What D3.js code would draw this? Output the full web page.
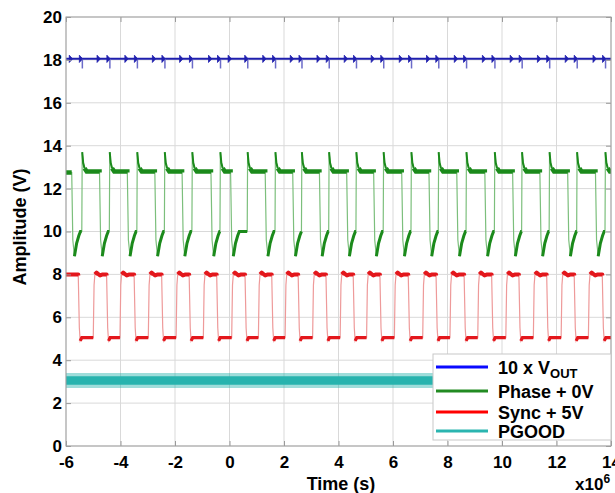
<!DOCTYPE html>
<html>
<head>
<meta charset="utf-8">
<script src="https://cdn.jsdelivr.net/npm/d3@7"></script>
<style>
  html, body { margin: 0; padding: 0; background: #fff; }
  svg text { font-family: "Liberation Sans", Arial, sans-serif; font-weight: bold; fill: #000; }
</style>
</head>
<body>
<svg id="chart" width="615" height="493"></svg>
<script>
// ---------- data ----------
const xTicks = [-6, -4, -2, 0, 2, 4, 6, 8, 10, 12, 14];
const yTicks = [0, 2, 4, 6, 8, 10, 12, 14, 16, 18, 20];
const seriesNames = ["10 x V", "Phase + 0V", "Sync + 5V", "PGOOD"];

// Phase (green) switching edges, time in µs
const phaseFall = [-5.79, -4.77, -3.75, -2.74, -1.74, -0.68, 0.04, 1.31, 2.32, 3.30, 4.30, 5.29, 6.32, 7.32, 8.34, 9.37, 10.39, 11.39, 12.41, 13.43];
const phaseRise = [-5.42, -4.41, -3.40, -2.39, -1.38, -0.35, 0.65, 1.67, 2.64, 3.64, 4.64, 5.64, 6.66, 7.66, 8.68, 9.72, 10.72, 11.73, 12.74, 13.78];
// shape of the phase node right after each edge: [offset µs, volts]
const phaseRiseShape = [[0, 10.0], [0.015, 13.7], [0.05, 13.2], [0.1, 12.95], [0.18, 12.8]];
const phaseFallShape = [[0, 12.75], [0.04, 9.6], [0.1, 8.85], [0.18, 9.45], [0.26, 9.8], [0.32, 10.0]];

// Sync + 5V (red) edges
const syncRise = [-5.00, -4.02, -2.98, -1.96, -0.96, 0.08, 1.06, 2.04, 3.05, 4.06, 5.03, 6.05, 7.09, 8.09, 9.11, 10.14, 11.15, 12.17, 13.17];
const syncFall = [-5.55, -4.51, -3.50, -2.49, -1.48, -0.47, 0.57, 1.55, 2.52, 3.54, 4.54, 5.52, 6.56, 7.58, 8.61, 9.62, 10.62, 11.64, 12.65, 13.68];
const syncRiseShape = [[0, 5.05], [0.03, 7.5], [0.06, 8.0], [0.12, 8.08], [0.25, 7.95], [0.35, 8.0]];
const syncFallShape = [[0, 7.95], [0.04, 5.5], [0.07, 4.9], [0.13, 5.05]];

// 10 x VOUT (blue)
const voutLevel = 18.05;
const voutArrowShape = [[-0.09, 18.22], [0.03, 18.05], [-0.09, 17.88]];
const voutSpikeShape = [[0.02, 18.05], [0.02, 17.6]];

// PGOOD (cyan) noise band
const pgoodCore = [2.85, 3.25];
const pgoodOuter = [2.7, 3.4];
const tRange = [-6, 14];

const colors = { vout: "#1f1fae", phase: "#1b8a1b", phaseEdge: "#7cbf7c", sync: "#e3171c", syncEdge: "#ee9a9a", pgood: "#27b3ae" };
const legendColors = ["#0a0aff", "#228b22", "#ff0000", "#2ab5b0"];

// ---------- layout ----------
const svg = d3.select("#chart");
const x = d3.scaleLinear().domain([-6, 14]).range([66, 611]);
const y = d3.scaleLinear().domain([0, 20]).range([446, 17]);
const X0 = x.range()[0], X1 = x.range()[1], Y0 = y.range()[1], Y1 = y.range()[0];

svg.append("defs").append("clipPath").attr("id", "clip")
  .append("rect").attr("x", X0).attr("y", Y0).attr("width", X1 - X0).attr("height", Y1 - Y0);

// grid
const grid = svg.append("g");
grid.selectAll(".gx").data(xTicks).join("line")
  .attr("x1", d => x(d)).attr("x2", d => x(d)).attr("y1", Y0).attr("y2", Y1)
  .attr("stroke", "#d9d9d9").attr("stroke-width", 1);
grid.selectAll(".gy").data(yTicks).join("line")
  .attr("y1", d => y(d)).attr("y2", d => y(d)).attr("x1", X0).attr("x2", X1)
  .attr("stroke", "#d9d9d9").attr("stroke-width", 1);

// ---------- wave builder ----------
function buildWave(startLevel, edges) {
  const pts = [[tRange[0], startLevel]];
  let level = startLevel;
  edges.sort((a, b) => a.t - b.t).forEach(e => {
    pts.push([e.t, level]);
    e.shape.forEach(([dt, v]) => pts.push([e.t + dt, v]));
    level = e.shape[e.shape.length - 1][1];
  });
  pts.push([tRange[1] + 0.2, level]);
  return pts;
}
function subset(pts, t0, t1) { return pts.filter(p => p[0] >= t0 && p[0] <= t1); }
const line = d3.line().x(d => x(d[0])).y(d => y(d[1]));

const plot = svg.append("g").attr("clip-path", "url(#clip)");

// PGOOD band
const area = d3.area().x(d => x(d)).y0(d => y(pgoodOuter[0])).y1(d => y(pgoodOuter[1]));
plot.append("path").datum(tRange).attr("d", area).attr("fill", colors.pgood).attr("opacity", 0.45);
const area2 = d3.area().x(d => x(d)).y0(d => y(pgoodCore[0])).y1(d => y(pgoodCore[1]));
plot.append("path").datum(tRange).attr("d", area2).attr("fill", colors.pgood);

// Sync (red)
const syncEdges = syncRise.map(t => ({ t, shape: syncRiseShape })).concat(syncFall.map(t => ({ t, shape: syncFallShape })));
const syncPts = buildWave(8.0, syncEdges);
plot.append("path").attr("d", line(syncPts)).attr("fill", "none").attr("stroke", colors.syncEdge).attr("stroke-width", 1.2);
const syncHighStarts = [tRange[0]].concat(syncRise.map(t => t + 0.05));
syncHighStarts.forEach((s, i) => {
  const f = syncFall[i];
  plot.append("path").attr("d", line(subset(syncPts, s, f).concat([[f, 7.95]])))
    .attr("fill", "none").attr("stroke", colors.sync).attr("stroke-width", 4).attr("stroke-linejoin", "round");
});
syncFall.forEach((f, i) => {
  const r = i < syncRise.length ? syncRise[i] : tRange[1] + 0.2;
  plot.append("path").attr("d", line(subset(syncPts, f + 0.06, r)))
    .attr("fill", "none").attr("stroke", colors.sync).attr("stroke-width", 3.2);
});

// Phase (green)
const phaseEdges = phaseRise.map(t => ({ t, shape: phaseRiseShape })).concat(phaseFall.map(t => ({ t, shape: phaseFallShape })));
const phasePts = buildWave(12.75, phaseEdges);
plot.append("path").attr("d", line(phasePts)).attr("fill", "none").attr("stroke", colors.phaseEdge).attr("stroke-width", 1.2);
phaseRise.forEach(r => {
  plot.append("path").attr("d", line(subset(phasePts, r + 0.01, r + 0.12)))
    .attr("fill", "none").attr("stroke", colors.phase).attr("stroke-width", 2);
});
const phaseHighStarts = [tRange[0]].concat(phaseRise.map(t => t + 0.09));
phaseHighStarts.forEach((s, i) => {
  const f = i < phaseFall.length ? phaseFall[i] : tRange[1] + 0.2;
  plot.append("path").attr("d", line(subset(phasePts, s, f)))
    .attr("fill", "none").attr("stroke", colors.phase).attr("stroke-width", 4.5);
});
phaseFall.forEach((f, i) => {
  const r = phaseRise[i];
  plot.append("path").attr("d", line(subset(phasePts, f + 0.1, r).concat([[r, 10.0]])))
    .attr("fill", "none").attr("stroke", colors.phase).attr("stroke-width", 3);
});

// VOUT (blue)
plot.append("line").attr("x1", X0).attr("x2", X1).attr("y1", y(voutLevel)).attr("y2", y(voutLevel))
  .attr("stroke", colors.vout).attr("stroke-width", 2);
phaseRise.forEach(t => {
  plot.append("path").attr("d", line(voutSpikeShape.map(([dt, v]) => [t + dt, v])))
    .attr("fill", "none").attr("stroke", "#6b6bc8").attr("stroke-width", 1.5);
});
phaseFall.concat(phaseRise).forEach(t => {
  plot.append("path").attr("d", line(voutArrowShape.map(([dt, v]) => [t + dt, v])) + "Z")
    .attr("fill", colors.vout).attr("stroke", colors.vout).attr("stroke-width", 0.8);
});

// ---------- axes ----------
const fmt = d => String(d);
const axB = svg.append("g").attr("transform", `translate(0,${Y1})`)
  .call(d3.axisBottom(x).tickValues(xTicks).tickFormat(fmt).tickSizeInner(-5).tickSizeOuter(0).tickPadding(10));
const axL = svg.append("g").attr("transform", `translate(${X0},0)`)
  .call(d3.axisLeft(y).tickValues(yTicks).tickFormat(fmt).tickSizeInner(-5).tickSizeOuter(0).tickPadding(4));
const axT = svg.append("g").attr("transform", `translate(0,${Y0})`)
  .call(d3.axisTop(x).tickValues(xTicks).tickFormat("").tickSizeInner(-5).tickSizeOuter(0));
const axR = svg.append("g").attr("transform", `translate(${X1},0)`)
  .call(d3.axisRight(y).tickValues(yTicks).tickFormat("").tickSizeInner(-5).tickSizeOuter(0));
[axB, axL, axT, axR].forEach(a => {
  a.select(".domain").remove();
  a.selectAll(".tick line").attr("stroke", "#9a9a9a");
  a.selectAll("text").attr("font-size", 17).attr("font-family", "Liberation Sans, Arial, sans-serif").attr("font-weight", "bold").attr("fill", "#000");
});
svg.append("rect").attr("x", X0).attr("y", Y0).attr("width", X1 - X0).attr("height", Y1 - Y0)
  .attr("fill", "none").attr("stroke", "#a0a0a0").attr("stroke-width", 1);

// labels
svg.append("text").attr("x", 341).attr("y", 490).attr("text-anchor", "middle").attr("font-size", 18).text("Time (s)");
svg.append("text").attr("transform", "translate(26,227) rotate(-90)").attr("text-anchor", "middle").attr("font-size", 18).text("Amplitude (V)");
const mult = svg.append("text").attr("x", 575).attr("y", 490).attr("font-size", 17);
mult.append("tspan").text("x10");
mult.append("tspan").attr("dy", -7).attr("font-size", 12).text("6");

// ---------- legend ----------
const lg = svg.append("g");
lg.append("rect").attr("x", 433).attr("y", 354).attr("width", 178).attr("height", 86)
  .attr("fill", "#fff").attr("stroke", "#c8c8c8").attr("stroke-width", 1);
const legY = [367, 391, 412, 431];
seriesNames.forEach((n, i) => {
  lg.append("line").attr("x1", 436).attr("x2", 488).attr("y1", legY[i]).attr("y2", legY[i])
    .attr("stroke", legendColors[i]).attr("stroke-width", 3);
  const t = lg.append("text").attr("x", 498).attr("y", legY[i] + 6.5).attr("font-size", 18).text(n);
  if (i === 0) t.append("tspan").attr("dy", 4).attr("font-size", 13).text("OUT");
});
</script>
</body>
</html>
